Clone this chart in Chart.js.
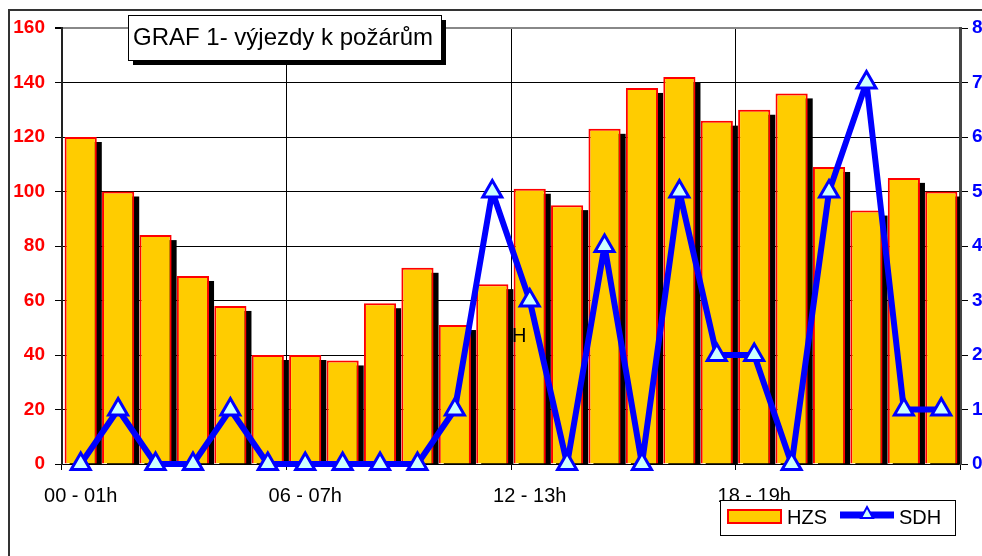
<!DOCTYPE html>
<html>
<head>
<meta charset="utf-8">
<script src="https://cdn.jsdelivr.net/npm/chart.js@4/dist/chart.umd.min.js"></script>
<style>
  html, body { margin: 0; padding: 0; overflow: hidden; background: #fff; }
  canvas { display: block; }
</style>
</head>
<body>
<canvas id="myChart" width="1010" height="556"></canvas>
<script>
var ctx = document.getElementById('myChart').getContext('2d');

// hodiny dne (kategorie na ose x)
var hodiny = ['00 - 01h', '01 - 02h', '02 - 03h', '03 - 04h', '04 - 05h', '05 - 06h',
  '06 - 07h', '07 - 08h', '08 - 09h', '09 - 10h', '10 - 11h', '11 - 12h',
  '12 - 13h', '13 - 14h', '14 - 15h', '15 - 16h', '16 - 17h', '17 - 18h',
  '18 - 19h', '19 - 20h', '20 - 21h', '21 - 22h', '22 - 23h', '23 - 24h'];

// výjezdy HZS (sloupce, levá osa)
var hzs = [120, 100, 84, 69, 58, 40, 40, 38, 59, 72, 51, 66,
  101, 95, 123, 138, 142, 126, 130, 136, 109, 93, 105, 100];

// výjezdy SDH (čára, pravá osa)
var sdh = [0, 1, 0, 0, 1, 0, 0, 0, 0, 0, 1, 5,
  3, 0, 4, 0, 5, 2, 2, 0, 5, 7, 1, 1];

var osaLevaMax = 160, osaLevaKrok = 20;
var osaPravaMax = 8, osaPravaKrok = 1;
var popisekKazdy = 6;

var nadpis = 'GRAF 1- výjezdy k požárům';
var pismo = 'Arial, "Liberation Sans", sans-serif';

Chart.defaults.font.family = pismo;

// ramecek, stiny sloupcu, nadpis a legenda
var doplnky = {
  id: 'doplnky',
  beforeDraw: function (chart) {
    var c = chart.ctx;
    c.save();
    c.fillStyle = '#fff';
    c.fillRect(0, 0, chart.width, chart.height);
    c.strokeStyle = '#333';
    c.lineWidth = 2;
    c.strokeRect(9, 10, chart.width + 50, chart.height + 50);
    c.restore();
  },
  beforeDatasetDraw: function (chart, args) {
    if (args.meta.type !== 'bar') return;
    var c = chart.ctx, a = chart.chartArea;
    c.save();
    c.beginPath();
    c.rect(a.left, a.top, a.right - a.left, a.bottom - a.top);
    c.clip();
    c.fillStyle = '#000';
    args.meta.data.forEach(function (bar) {
      var p = bar.getProps(['x', 'y', 'base', 'width'], true);
      c.fillRect(p.x - p.width / 2 + 5, p.y + 5, p.width, p.base - p.y);
    });
    c.restore();
  },
  afterDraw: function (chart) {
    var c = chart.ctx;
    var ds = chart.data.datasets;
    c.save();

    // nadpis v rámečku se stínem
    c.fillStyle = '#000';
    c.fillRect(133, 55, 313, 10);
    c.fillRect(436, 20, 10, 45);
    c.fillStyle = '#fff';
    c.fillRect(128, 15, 313, 45);
    c.strokeStyle = '#000';
    c.lineWidth = 1;
    c.strokeRect(128.5, 15.5, 313, 45);
    c.fillStyle = '#000';
    c.font = '24px ' + pismo;
    c.textBaseline = 'middle';
    c.fillText(nadpis, 133, 38);

    // zbloudilé písmeno
    c.font = '20px ' + pismo;
    c.fillText('H', 512, 336);

    // legenda
    c.fillStyle = '#fff';
    c.fillRect(720, 500, 235, 35);
    c.strokeStyle = '#000';
    c.lineWidth = 1;
    c.strokeRect(720.5, 500.5, 235, 35);

    c.fillStyle = ds[1].backgroundColor;
    c.fillRect(727, 509, 55, 15);
    c.strokeStyle = ds[1].borderColor;
    c.lineWidth = 2;
    c.strokeRect(728, 510, 53, 13);
    c.fillStyle = '#000';
    c.font = '20px ' + pismo;
    c.fillText(ds[1].label, 787, 518);

    c.strokeStyle = ds[0].borderColor;
    c.lineWidth = 7;
    c.beginPath();
    c.moveTo(840, 515);
    c.lineTo(894, 515);
    c.stroke();
    c.beginPath();
    c.moveTo(867, 507);
    c.lineTo(873, 518);
    c.lineTo(861, 518);
    c.closePath();
    c.fillStyle = ds[0].pointBackgroundColor;
    c.fill();
    c.strokeStyle = ds[0].pointBorderColor;
    c.lineWidth = 2;
    c.stroke();
    c.fillStyle = '#000';
    c.fillText(ds[0].label, 899, 518);

    c.restore();
  }
};

var config = {
  type: 'bar',
  data: {
    labels: hodiny,
    datasets: [
      {
        type: 'line',
        label: 'SDH',
        data: sdh,
        yAxisID: 'y1',
        order: 0,
        borderColor: '#0000FF',
        borderWidth: 6,
        borderJoinStyle: 'bevel',
        tension: 0,
        pointStyle: 'triangle',
        pointRadius: 11,
        pointBackgroundColor: '#CCFFFF',
        pointBorderColor: '#0000FF',
        pointBorderWidth: 3,
        clip: false
      },
      {
        label: 'HZS',
        data: hzs,
        yAxisID: 'y',
        order: 1,
        backgroundColor: '#FFCC00',
        borderColor: '#FF0000',
        borderWidth: 2,
        categoryPercentage: 1,
        barPercentage: 0.86
      }
    ]
  },
  options: {
    responsive: false,
    devicePixelRatio: 1,
    animation: false,
    events: [],
    layout: { padding: { top: 28, left: 0, right: 0, bottom: 0 } },
    plugins: {
      legend: { display: false },
      tooltip: { enabled: false }
    },
    scales: {
      x: {
        offset: true,
        afterFit: function (scale) { scale.height = 92; },
        grid: {
          offset: true,
          tickLength: 6,
          color: function (c) {
            return (c.index === undefined || c.index % popisekKazdy === 0) ? '#000' : 'rgba(0,0,0,0)';
          },
          tickColor: function (c) {
            return (c.index === undefined || c.index % popisekKazdy === 0) ? '#000' : 'rgba(0,0,0,0)';
          }
        },
        border: { color: '#000', width: 1 },
        ticks: {
          autoSkip: false,
          maxRotation: 0,
          padding: 14,
          color: '#000',
          font: { size: 20 },
          callback: function (value, index) {
            return index % popisekKazdy === 0 ? hodiny[index] : '';
          }
        }
      },
      y: {
        position: 'left',
        min: 0,
        max: osaLevaMax,
        afterFit: function (scale) { scale.width = 62; },
        grid: {
          tickLength: 7,
          color: function (c) { return c.tick && c.tick.value === osaLevaMax ? '#888' : '#000'; },
          lineWidth: function (c) { return c.tick && c.tick.value === osaLevaMax ? 2 : 1; },
          tickColor: '#000'
        },
        border: { color: '#222', width: 2 },
        ticks: {
          stepSize: osaLevaKrok,
          padding: 10,
          color: '#FF0000',
          font: { size: 19, weight: 'bold' }
        }
      },
      y1: {
        position: 'right',
        min: 0,
        max: osaPravaMax,
        afterFit: function (scale) { scale.width = 50; },
        grid: {
          drawOnChartArea: false,
          tickLength: 8,
          tickColor: '#000'
        },
        border: { color: '#444', width: 3 },
        ticks: {
          stepSize: osaPravaKrok,
          padding: 4,
          color: '#0000FF',
          font: { size: 19, weight: 'bold' }
        }
      }
    }
  },
  plugins: [doplnky]
};

var chart = new Chart(ctx, config);
</script>
</body>
</html>
